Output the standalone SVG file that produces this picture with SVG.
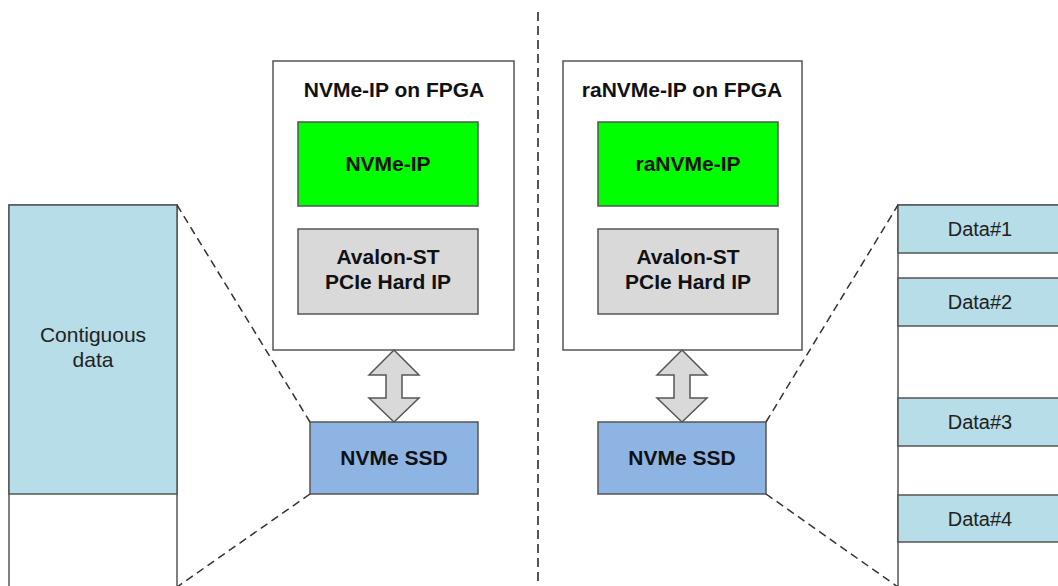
<svg xmlns="http://www.w3.org/2000/svg" width="1058" height="586" viewBox="0 0 1058 586">
<style>
.box{stroke:#555;stroke-width:1.5}
.fpga{fill:#fff}
.ip{fill:#00ff00}
.hard{fill:#d9d9d9}
.ssd{fill:#8eb4e3}
.data{fill:#b7dde8}
.blank{fill:#fff}
.b{font-family:"Liberation Sans",Arial,sans-serif;font-weight:bold;font-size:21px;fill:#111;text-anchor:middle}
.r{font-family:"Liberation Sans",Arial,sans-serif;font-size:20px;fill:#222;text-anchor:middle}
.big{font-size:21px}
.dash{stroke:#333;stroke-width:1.5;stroke-dasharray:8 5;fill:none}
.div{stroke:#555;stroke-width:2;stroke-dasharray:9 5;fill:none}
.arrow{fill:#d9d9d9;stroke:#555;stroke-width:1.5;stroke-linejoin:miter}
</style>
<rect width="1058" height="586" fill="#fff"/>

<g id="divider">
<line class="div" x1="538" y1="12" x2="538" y2="586"/>
</g>

<g id="contiguous-storage">
<rect class="box blank" x="9" y="205" width="168" height="400"/>
<rect class="box data" x="9" y="205" width="168" height="289"/>
<text class="r big" x="93" y="342">Contiguous</text>
<text class="r big" x="93" y="367">data</text>
</g>

<g id="fpga-left">
<rect class="box fpga" x="273" y="61" width="241" height="289"/>
<text class="b" x="394" y="97">NVMe-IP on FPGA</text>
</g>
<g id="nvme-ip">
<rect class="box ip" x="298" y="122" width="180" height="84"/>
<text class="b" x="388" y="171">NVMe-IP</text>
</g>
<g id="pcie-left">
<rect class="box hard" x="298" y="229" width="180" height="85"/>
<text class="b" x="388" y="264">Avalon-ST</text>
<text class="b" x="388" y="289">PCIe Hard IP</text>
</g>
<g id="ssd-left">
<rect class="box ssd" x="310" y="422" width="168" height="72"/>
<text class="b" x="394" y="465">NVMe SSD</text>
</g>

<g id="fpga-right">
<rect class="box fpga" x="563" y="61" width="239" height="289"/>
<text class="b" x="682" y="97">raNVMe-IP on FPGA</text>
</g>
<g id="ranvme-ip">
<rect class="box ip" x="598" y="122" width="180" height="84"/>
<text class="b" x="688" y="171">raNVMe-IP</text>
</g>
<g id="pcie-right">
<rect class="box hard" x="598" y="229" width="180" height="85"/>
<text class="b" x="688" y="264">Avalon-ST</text>
<text class="b" x="688" y="289">PCIe Hard IP</text>
</g>
<g id="ssd-right">
<rect class="box ssd" x="598" y="422" width="168" height="72"/>
<text class="b" x="682" y="465">NVMe SSD</text>
</g>

<g id="random-storage">
<rect class="box blank" x="898" y="205" width="170" height="400"/>
<rect class="box data" x="898" y="205" width="170" height="48"/>
<text class="r" x="980" y="236">Data#1</text>
<rect class="box data" x="898" y="278" width="170" height="48"/>
<text class="r" x="980" y="309">Data#2</text>
<rect class="box data" x="898" y="398" width="170" height="48"/>
<text class="r" x="980" y="429">Data#3</text>
<rect class="box data" x="898" y="495" width="170" height="47"/>
<text class="r" x="980" y="526">Data#4</text>
</g>

<g id="connectors">
<path class="arrow" d="M394 350 L419 375 L402 375 L402 398 L419 398 L394 422 L369 398 L386 398 L386 375 L369 375 Z"/>
<path class="arrow" d="M682 350 L707 375 L690 375 L690 398 L707 398 L682 422 L657 398 L674 398 L674 375 L657 375 Z"/>
<line class="dash" x1="177" y1="205" x2="310" y2="422"/>
<line class="dash" x1="310" y1="494" x2="177" y2="587"/>
<line class="dash" x1="766" y1="422" x2="898" y2="205"/>
<line class="dash" x1="766" y1="494" x2="898" y2="587"/>
</g>
</svg>
